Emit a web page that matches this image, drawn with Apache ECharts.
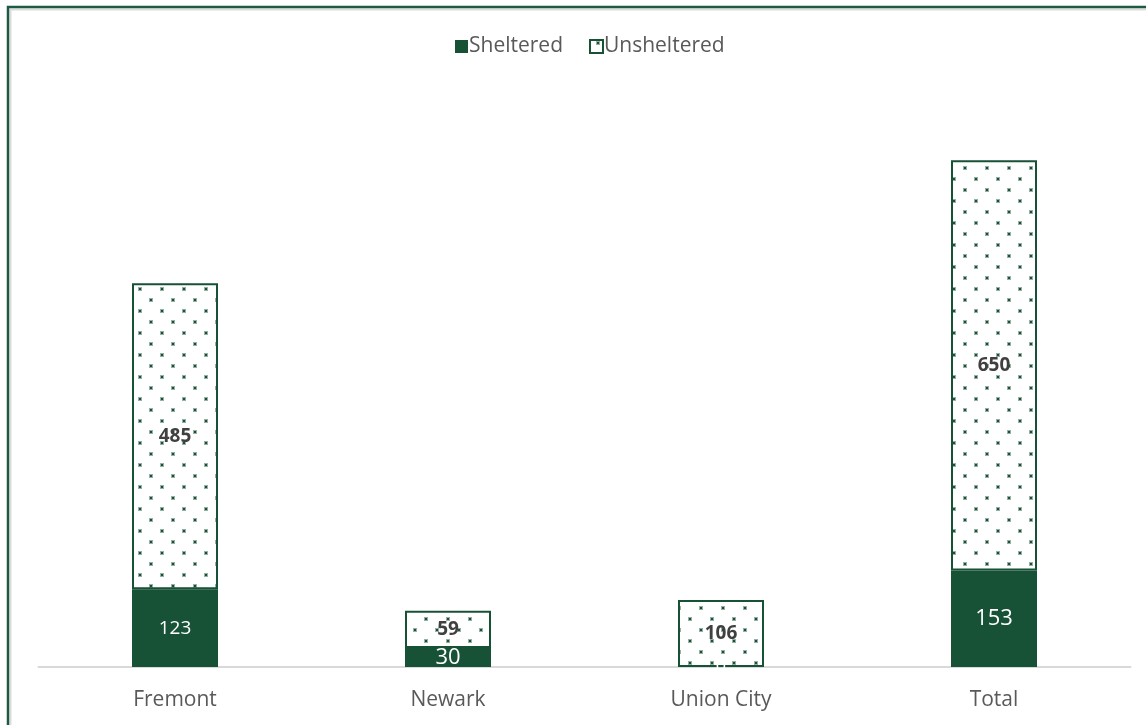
<!DOCTYPE html>
<html><head><meta charset="utf-8">
<script src="https://cdn.jsdelivr.net/npm/echarts@6/dist/echarts.min.js"></script>
<style>html,body{margin:0;padding:0;background:#fff}#c{width:1146px;height:725px}</style>
</head><body><div id="c"></div>
<script>
const categories = ['Fremont', 'Newark', 'Union City', 'Total'];
const sheltered = [123, 30, 0, 153];
const unsheltered = [485, 59, 106, 650];

const GREEN = '#175236';
const cv = document.createElement('canvas');
cv.width = 22; cv.height = 22;
const cx = cv.getContext('2d');
cx.fillStyle = '#ffffff'; cx.fillRect(0, 0, 22, 22);
function dot(x, y) {
  cx.fillStyle = 'rgba(23,82,54,0.45)';
  cx.fillRect(x - 1, y - 1, 4, 4);
  cx.fillStyle = GREEN;
  cx.fillRect(x, y, 2, 2);
}
dot(7, 2);
dot(18, 13);

const FONT = '"Open Sans", Lato, sans-serif';
const shelLabel = [19, 22, 18, 22];
const chart = echarts.init(document.getElementById('c'));
chart.setOption({
  animation: false,
  backgroundColor: '#fff',
  legend: {
    top: 31, left: 450,
    itemWidth: 13, itemHeight: 13, itemGap: 26,
    textStyle: { color: '#595959', fontSize: 21, fontFamily: FONT, padding: [0, 0, 0, -4] },
    data: [
      { name: 'Sheltered', icon: 'rect' },
      { name: 'Unsheltered', icon: 'rect' }
    ]
  },
  grid: { left: 38.5, right: 15.5, top: 99, bottom: 58, containLabel: false },
  xAxis: {
    type: 'category', data: categories,
    axisLine: { lineStyle: { color: '#d9d9d9', width: 2 } },
    axisTick: { show: false },
    axisLabel: { color: '#595959', fontSize: 21, fontFamily: FONT, margin: 23 }
  },
  yAxis: { type: 'value', min: 0, max: 900, show: false, splitLine: { show: false } },
  series: [
    {
      name: 'Sheltered', type: 'bar', stack: 's', barWidth: 86,
      data: sheltered.map((v, i) => ({ value: v, label: { fontSize: shelLabel[i] } })),
      itemStyle: { color: GREEN },
      label: {
        show: true, position: 'inside', color: '#fff', fontFamily: FONT,
        fontSize: 19
      }
    },
    {
      name: 'Unsheltered', type: 'bar', stack: 's', barWidth: 86,
      data: unsheltered,
      itemStyle: { color: { image: cv, repeat: 'repeat' }, borderColor: GREEN, borderWidth: 2 },
      label: {
        show: true, position: 'inside', color: '#404040', fontWeight: 'bold',
        fontFamily: FONT, fontSize: 19
      }
    }
  ],
  graphic: [
    { type: 'rect', shape: { x: 10.5, y: 9.5, width: 1300, height: 900 }, style: { fill: 'none', stroke: '#dcdcdc', lineWidth: 2 }, silent: true },
    { type: 'rect', shape: { x: 8, y: 7, width: 1300, height: 900 }, style: { fill: 'none', stroke: '#1e5a40', lineWidth: 2.5 }, silent: true }
  ]
});
</script></body></html>
